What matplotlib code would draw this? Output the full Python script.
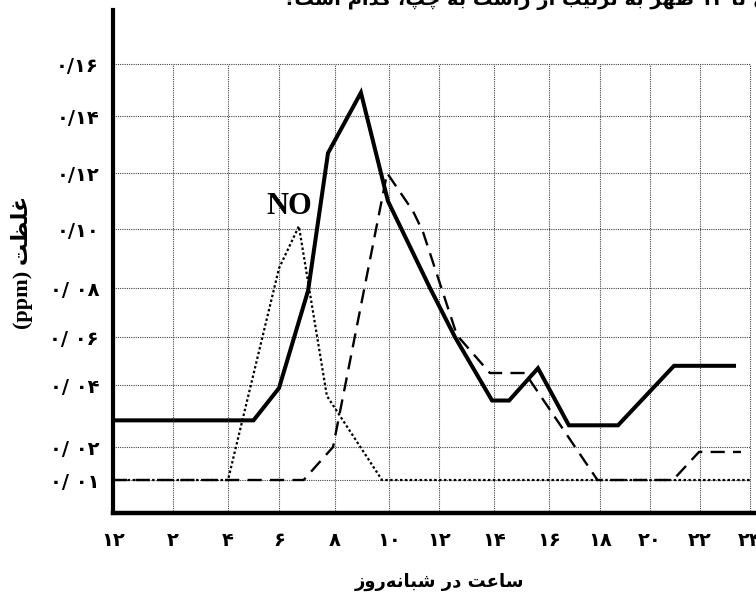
import re
import numpy as np
import matplotlib
matplotlib.use('Agg')
import matplotlib.pyplot as plt

# ---------------- data ----------------
hours_solid = [0, 5.0, 6.0, 7.04, 7.75, 8.96, 9.96, 11.64, 12.58, 13.93, 14.55, 15.6, 16.78, 18.72, 20.96, 23.36]
ppm_solid = [0.0286, 0.0286, 0.039, 0.079, 0.127, 0.149, 0.110, 0.080, 0.060, 0.035, 0.035, 0.047, 0.027, 0.027, 0.048, 0.048]

hours_dashed = [0, 6.88, 7.93, 9.93, 10.96, 11.36, 12.65, 13.85, 15.13, 17.9, 20.92, 21.96, 23.64]
ppm_dashed = [0.01, 0.01, 0.02, 0.12, 0.1064, 0.099, 0.0608, 0.045, 0.045, 0.01, 0.01, 0.0185, 0.0185]

hours_no = [0, 4.0, 6.0, 6.71, 7.71, 9.74, 24.0]
ppm_no = [0.01, 0.01, 0.0867, 0.101, 0.0365, 0.01, 0.01]

x_ticks = [0, 2, 4, 6, 8, 10, 12, 14, 16, 18, 20, 22, 24]
x_labels = ['۱۲', '۲', '۴', '۶', '۸', '۱۰', '۱۲', '۱۴', '۱۶', '۱۸', '۲۰', '۲۲', '۲۴']
y_ticks = [0.01, 0.02, 0.04, 0.06, 0.08, 0.10, 0.12, 0.14, 0.16]
y_labels = ['۰/ ۰۱', '۰/ ۰۲', '۰/ ۰۴', '۰/ ۰۶', '۰/ ۰۸', '۰/۱۰', '۰/۱۲', '۰/۱۴', '۰/۱۶']

x_title = 'ساعت در شبانه\u200cروز'
y_title = 'غلظت (ppm)'
top_text = 'صبح تا ۱۲ ظهر به ترتیب از راست به چپ، کدام است؟'
curve_label = 'NO'

# calibration of the (hand drawn) grid of the original figure
x_knot_vals = [-2, 0, 2, 4, 6, 8, 10, 12, 14, 16, 18, 20, 22, 24, 26]
x_knot_pos = [-60, 0, 60, 115, 166, 222, 276, 326, 381, 436, 487, 537, 587, 637, 687]
y_knot_vals = [-0.02, 0, 0.01, 0.02, 0.04, 0.06, 0.08, 0.10, 0.12, 0.14, 0.16, 0.18, 0.30]
y_knot_pos = [-66, 0, 33, 66, 128, 176, 225, 284, 340, 397, 449, 500, 806]

# ---------------- minimal Persian shaping ----------------
FORMS = {
    'ا': ('\uFE8D', '\uFE8E', None, None),
    'ب': ('\uFE8F', '\uFE90', '\uFE91', '\uFE92'),
    'ت': ('\uFE95', '\uFE96', '\uFE97', '\uFE98'),
    'ح': ('\uFEA1', '\uFEA2', '\uFEA3', '\uFEA4'),
    'د': ('\uFEA9', '\uFEAA', None, None),
    'ر': ('\uFEAD', '\uFEAE', None, None),
    'ز': ('\uFEAF', '\uFEB0', None, None),
    'س': ('\uFEB1', '\uFEB2', '\uFEB3', '\uFEB4'),
    'ش': ('\uFEB5', '\uFEB6', '\uFEB7', '\uFEB8'),
    'ص': ('\uFEB9', '\uFEBA', '\uFEBB', '\uFEBC'),
    'ظ': ('\uFEC5', '\uFEC6', '\uFEC7', '\uFEC8'),
    'ع': ('\uFEC9', '\uFECA', '\uFECB', '\uFECC'),
    'غ': ('\uFECD', '\uFECE', '\uFECF', '\uFED0'),
    'ل': ('\uFEDD', '\uFEDE', '\uFEDF', '\uFEE0'),
    'م': ('\uFEE1', '\uFEE2', '\uFEE3', '\uFEE4'),
    'ن': ('\uFEE5', '\uFEE6', '\uFEE7', '\uFEE8'),
    'ه': ('\uFEE9', '\uFEEA', '\uFEEB', '\uFEEC'),
    'و': ('\uFEED', '\uFEEE', None, None),
    'پ': ('\uFB56', '\uFB57', '\uFB58', '\uFB59'),
    'چ': ('\uFB7A', '\uFB7B', '\uFB7C', '\uFB7D'),
    'ک': ('\uFB8E', '\uFB8F', '\uFB90', '\uFB91'),
    'ی': ('\uFBFC', '\uFBFD', '\uFBFE', '\uFBFF'),
}


def shape(s):
    out = []
    for i, c in enumerate(s):
        if c not in FORMS:
            if c != '\u200c':
                out.append(c)
            continue
        prev = s[i - 1] if i > 0 else None
        nxt = s[i + 1] if i + 1 < len(s) else None
        cp = prev in FORMS and FORMS[prev][2] is not None
        cn = nxt in FORMS and FORMS[c][2] is not None
        iso, fin, ini, med = FORMS[c]
        out.append(med if (cp and cn) else fin if cp else ini if cn else iso)
    return ''.join(out)


def visual(s):
    v = shape(s)[::-1]
    v = re.sub(r'[0-9A-Za-z\u06F0-\u06F9]+', lambda m: m.group(0)[::-1], v)
    return v.translate(str.maketrans('()', ')('))


# ---------------- figure ----------------
fig = plt.figure(figsize=(7.56, 5.98), dpi=100, facecolor='white')
ax = fig.add_axes([113 / 756, 85 / 598, 643 / 756, 503 / 598])

fx = lambda v: np.interp(v, x_knot_vals, x_knot_pos)
ix = lambda p: np.interp(p, x_knot_pos, x_knot_vals)
fy = lambda v: np.interp(v, y_knot_vals, y_knot_pos)
iy = lambda p: np.interp(p, y_knot_pos, y_knot_vals)
ax.set_xscale('function', functions=(fx, ix))
ax.set_yscale('function', functions=(fy, iy))
ax.set_xlim(0, 24.24)
ax.set_ylim(0, 0.1812)

# grid (box from 0..24 h and 0..0.16 ppm)
ax.hlines(y_ticks, 0, x_ticks[-1], colors='#444444', lw=0.8, linestyles=(0, (1, 1)), zorder=1)
ax.vlines(x_ticks[1:], 0, y_ticks[-1], colors='#444444', lw=0.8, linestyles=(0, (1, 1)), zorder=1)

ax.plot(hours_no, ppm_no, color='black', lw=1.6, linestyle=(0, (1.1, 1.1)), zorder=3)
ax.plot(hours_dashed, ppm_dashed, color='black', lw=1.7, linestyle=(0, (6, 3.5)), zorder=4)
ax.plot(hours_solid, ppm_solid, color='black', lw=2.9, solid_joinstyle='miter', zorder=5)

ax.text(6.36, 0.108, curve_label, family='Liberation Serif', weight='bold', fontsize=22,
        ha='center', va='center', zorder=6)

for s in ('top', 'right'):
    ax.spines[s].set_visible(False)
ax.spines['left'].set_linewidth(3.0)
ax.spines['bottom'].set_linewidth(3.2)

ax.set_xticks(x_ticks, x_labels)
ax.set_yticks(y_ticks, y_labels)
ax.tick_params(axis='both', length=0)
ax.tick_params(axis='y', pad=10)
ax.tick_params(axis='x', pad=13)
for lab in ax.get_xticklabels() + ax.get_yticklabels():
    lab.set_family(['DejaVu Sans'])
    lab.set_fontweight('bold')
    lab.set_fontsize(14)
ax.minorticks_off()

fig.text(440 / 756, 1 - 582 / 598, visual(x_title), family=['DejaVu Sans'], weight='bold',
         fontsize=13, ha='center', va='center')
fig.text(22 / 756, 1 - 262 / 598, visual(y_title), family=['Liberation Serif', 'DejaVu Sans'],
         weight='bold', fontsize=16, ha='center', va='center', rotation=90)
fig.text(283 / 756, 1 - 5 / 598, visual(top_text), family=['DejaVu Sans'], weight='bold',
         fontsize=14, ha='left', va='baseline')

fig.savefig('out.png', dpi=100, facecolor='white')
